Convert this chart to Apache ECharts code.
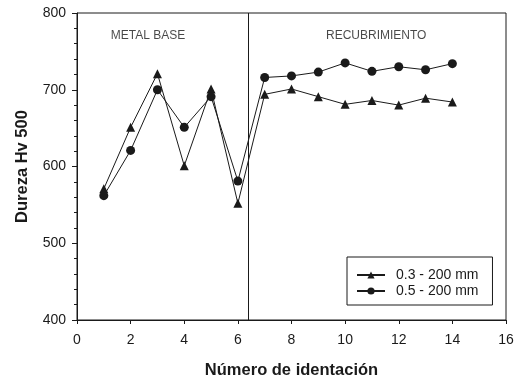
<!DOCTYPE html>
<html>
<head>
<meta charset="utf-8">
<script src="https://cdn.jsdelivr.net/npm/echarts@6/dist/echarts.min.js"></script>
<style>
html,body{margin:0;padding:0;background:#fff;}
#chart{width:518px;height:384px;}
</style>
</head>
<body>
<div id="chart"></div>
<script>
// Data
const indentNumbers = [1, 2, 3, 4, 5, 6, 7, 8, 9, 10, 11, 12, 13, 14];
const series03Name = '0.3 - 200 mm';
const series05Name = '0.5 - 200 mm';
const series03Values = [571, 651, 721, 601, 701, 552, 694, 701, 691, 681, 686, 680, 689, 684];
const series05Values = [562, 621, 700, 651, 691, 581, 716, 718, 723, 735, 724, 730, 726, 734];
const dividerX = 6.4;
const regionLabels = ['METAL BASE', 'RECUBRIMIENTO'];
const regionLabelX = [2.65, 11.16];
const regionLabelY = 771;
const xTitle = 'Número de identación';
const yTitle = 'Dureza Hv 500';

const pair = (xs, ys) => xs.map((x, i) => [x, ys[i]]);

const chart = echarts.init(document.getElementById('chart'));
const font = 'Liberation Sans, Arial, sans-serif';
const ink = '#1a1a1a';

chart.setOption({
  animation: false,
  backgroundColor: '#fff',
  grid: {
    left: 77, right: 12, top: 13, bottom: 61,
    show: true, borderColor: ink, borderWidth: 1, backgroundColor: 'transparent'
  },
  legend: {
    orient: 'vertical',
    left: 347, top: 257,
    borderColor: ink, borderWidth: 1,
    padding: [11, 14, 7, 9],
    itemWidth: 28, itemHeight: 9, itemGap: 2,
    textStyle: { fontFamily: font, fontSize: 14, color: ink, padding: [0, 0, 0, 6] },
    data: [series03Name, series05Name]
  },
  xAxis: {
    type: 'value', min: 0, max: 16, interval: 2,
    name: xTitle, nameLocation: 'middle', nameGap: 42,
    nameTextStyle: { fontFamily: font, fontSize: 16.5, fontWeight: 'bold', color: ink },
    axisLine: { show: true, onZero: false, lineStyle: { color: ink, width: 1 } },
    axisTick: { show: true, length: 4, lineStyle: { color: ink } },
    axisLabel: { fontFamily: font, fontSize: 14, color: ink, margin: 13 },
    splitLine: { show: false }
  },
  yAxis: {
    type: 'value', min: 400, max: 800, interval: 100,
    name: yTitle, nameLocation: 'middle', nameGap: 46,
    nameTextStyle: { fontFamily: font, fontSize: 16.5, fontWeight: 'bold', color: ink },
    axisLine: { show: true, lineStyle: { color: ink, width: 1 } },
    axisTick: { show: true, length: 5, lineStyle: { color: ink } },
    minorTick: { show: true, splitNumber: 5, length: 3, lineStyle: { color: ink } },
    axisLabel: { fontFamily: font, fontSize: 14, color: ink, margin: 11 },
    splitLine: { show: false }
  },
  series: [
    {
      name: series03Name, type: 'line',
      data: pair(indentNumbers, series03Values),
      symbol: 'triangle', symbolSize: 9,
      lineStyle: { color: ink, width: 1 },
      itemStyle: { color: ink },
      markLine: {
        silent: true, symbol: 'none', label: { show: false },
        lineStyle: { color: ink, width: 1, type: 'solid' },
        data: [{ xAxis: dividerX }]
      }
    },
    {
      name: series05Name, type: 'line',
      data: pair(indentNumbers, series05Values),
      symbol: 'circle', symbolSize: 9,
      lineStyle: { color: ink, width: 1 },
      itemStyle: { color: ink }
    },
    {
      type: 'scatter', silent: true, symbolSize: 0,
      data: regionLabels.map((t, i) => ({ value: [regionLabelX[i], regionLabelY], name: t })),
      label: {
        show: true, position: 'inside', formatter: p => p.name,
        fontFamily: font, fontSize: 12, color: ink
      },
      tooltip: { show: false }
    }
  ]
});
</script>
</body>
</html>
